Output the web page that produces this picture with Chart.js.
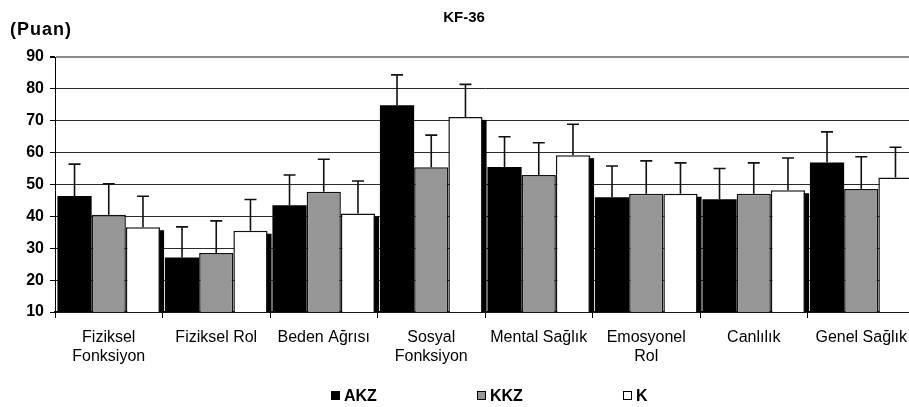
<!DOCTYPE html>
<html>
<head>
<meta charset="utf-8">
<script src="https://cdn.jsdelivr.net/npm/chart.js@4.4.1/dist/chart.umd.min.js"></script>
<style>
  html, body { margin: 0; padding: 0; background: #fff; overflow: hidden; width: 909px; height: 407px; }
  canvas { display: block; }
</style>
</head>
<body>
<canvas id="c" width="925" height="407"></canvas>
<script>
// KF-36 subscale scores (mean and standard deviation) per group
const categories = [
  ['Fiziksel', 'Fonksiyon'], 'Fiziksel Rol', 'Beden Ağrısı', ['Sosyal', 'Fonksiyon'],
  'Mental Sağlık', ['Emosyonel', 'Rol'], 'Canlılık', 'Genel Sağlık'
];
const seriesNames = ['AKZ', 'KKZ', 'K'];
const akzMean = [46.4, 27.1, 43.5, 74.9, 55.5, 46.0, 45.4, 56.9];
const akzSd   = [10.0,  9.6,  9.5,  9.5,  9.5,  9.8,  9.6,  9.6];
const kkzMean = [40.5, 28.5, 47.7, 55.4, 53.0, 47.1, 47.1, 48.6];
const kkzSd   = [ 9.7, 10.1, 10.2, 10.1, 10.1, 10.3,  9.7, 10.1];
const kMean   = [36.6, 35.5, 40.9, 71.2, 59.2, 47.1, 48.2, 52.2];
const kSd     = [ 9.7,  9.8, 10.2, 10.2,  9.7,  9.7, 10.1,  9.5];
const yTicks  = [10, 20, 30, 40, 50, 60, 70, 80, 90];

const FONT = '"Liberation Sans", Arial, sans-serif';
const fills = ['#000000', '#969696', '#ffffff'];

// Offset drop shadow behind the last (white) series of each group
const barShadow = {
  id: 'barShadow',
  beforeDatasetsDraw(chart) {
    const { ctx, chartArea } = chart;
    ctx.save();
    ctx.beginPath();
    ctx.rect(chartArea.left, chartArea.top, chartArea.right - chartArea.left, chartArea.bottom - chartArea.top);
    ctx.clip();
    ctx.fillStyle = '#000';
    chart.data.datasets.forEach((ds, i) => {
      if (!ds.shadow) return;
      chart.getDatasetMeta(i).data.forEach(el => {
        const p = el.getProps(['x', 'y', 'base', 'width'], true);
        ctx.fillRect(p.x - p.width / 2 + 4, p.y + 3, p.width, p.base - p.y);
      });
    });
    ctx.restore();
  }
};

// Upper error whiskers (mean + SD) with a cap
const errorBars = {
  id: 'errorBars',
  afterDatasetsDraw(chart) {
    const { ctx } = chart;
    const yScale = chart.scales.y;
    ctx.save();
    ctx.strokeStyle = '#111';
    ctx.lineWidth = 1.6;
    chart.data.datasets.forEach((ds, i) => {
      chart.getDatasetMeta(i).data.forEach((el, j) => {
        const p = el.getProps(['x', 'y'], true);
        const top = yScale.getPixelForValue(ds.data[j] + ds.sd[j]);
        ctx.beginPath();
        ctx.moveTo(p.x, p.y);
        ctx.lineTo(p.x, top);
        ctx.moveTo(p.x - 6, top);
        ctx.lineTo(p.x + 6, top);
        ctx.stroke();
      });
    });
    ctx.restore();
  }
};

// Title, unit label and legend row
const chartTexts = {
  id: 'chartTexts',
  afterDraw(chart) {
    const { ctx } = chart;
    ctx.save();
    ctx.fillStyle = '#000';
    ctx.textBaseline = 'alphabetic';
    ctx.font = 'bold 15px ' + FONT;
    ctx.textAlign = 'center';
    ctx.fillText('KF-36', 464, 22);

    ctx.textAlign = 'left';
    ctx.font = 'bold 18px ' + FONT;
    ctx.letterSpacing = '1px';
    ctx.fillText('(Puan)', 10, 35);
    ctx.letterSpacing = '0px';

    const legendX = [331, 477, 623];
    ctx.font = 'bold 16px ' + FONT;
    chart.data.datasets.forEach((ds, i) => {
      const x = legendX[i];
      ctx.fillStyle = ds.backgroundColor;
      ctx.fillRect(x, 391, 9, 9);
      ctx.strokeStyle = '#000';
      ctx.lineWidth = 1;
      ctx.strokeRect(x + 0.5, 391.5, 8, 8);
      ctx.fillStyle = '#000';
      ctx.fillText(ds.label, x + 13, 401);
    });
    ctx.restore();
  }
};

const means = [akzMean, kkzMean, kMean];
const sds = [akzSd, kkzSd, kSd];

new Chart(document.getElementById('c'), {
  type: 'bar',
  data: {
    labels: categories,
    datasets: seriesNames.map((name, i) => ({
      label: name,
      data: means[i],
      sd: sds[i],
      shadow: i === 2,
      backgroundColor: fills[i],
      borderColor: '#111',
      borderWidth: i === 0 ? 0 : 1.5,
      borderSkipped: 'bottom',
      categoryPercentage: 0.955,
      barPercentage: 1.0
    }))
  },
  options: {
    responsive: false,
    animation: false,
    devicePixelRatio: 1,
    layout: { padding: { left: 0, right: 10, top: 57, bottom: 0 } },
    plugins: {
      legend: { display: false },
      title: { display: false },
      tooltip: { enabled: false }
    },
    scales: {
      x: {
        afterFit(scale) { scale.height = 95; },
        grid: {
          display: true,
          drawOnChartArea: false,
          drawTicks: true,
          offset: true,
          tickLength: 6,
          tickColor: '#000',
          tickWidth: 1
        },
        border: { display: true, color: '#000', width: 1.5 },
        ticks: {
          color: '#000',
          font: { family: FONT, size: 16 },
          padding: 10,
          maxRotation: 0,
          autoSkip: false
        }
      },
      y: {
        min: 10,
        max: 90,
        afterFit(scale) { scale.width = 55; },
        afterBuildTicks(scale) { scale.ticks = yTicks.map(v => ({ value: v })); },
        grid: {
          color: c => (c.tick && c.tick.value === 90) ? '#8a8a8a' : '#2a2a2a',
          lineWidth: c => (c.tick && c.tick.value === 90) ? 2 : 1,
          tickColor: '#000',
          tickLength: 5
        },
        border: { display: true, color: '#000', width: 1 },
        ticks: {
          color: '#000',
          font: { family: FONT, size: 16, weight: 'bold' },
          padding: 6
        }
      }
    }
  },
  plugins: [barShadow, errorBars, chartTexts]
});
</script>
</body>
</html>
